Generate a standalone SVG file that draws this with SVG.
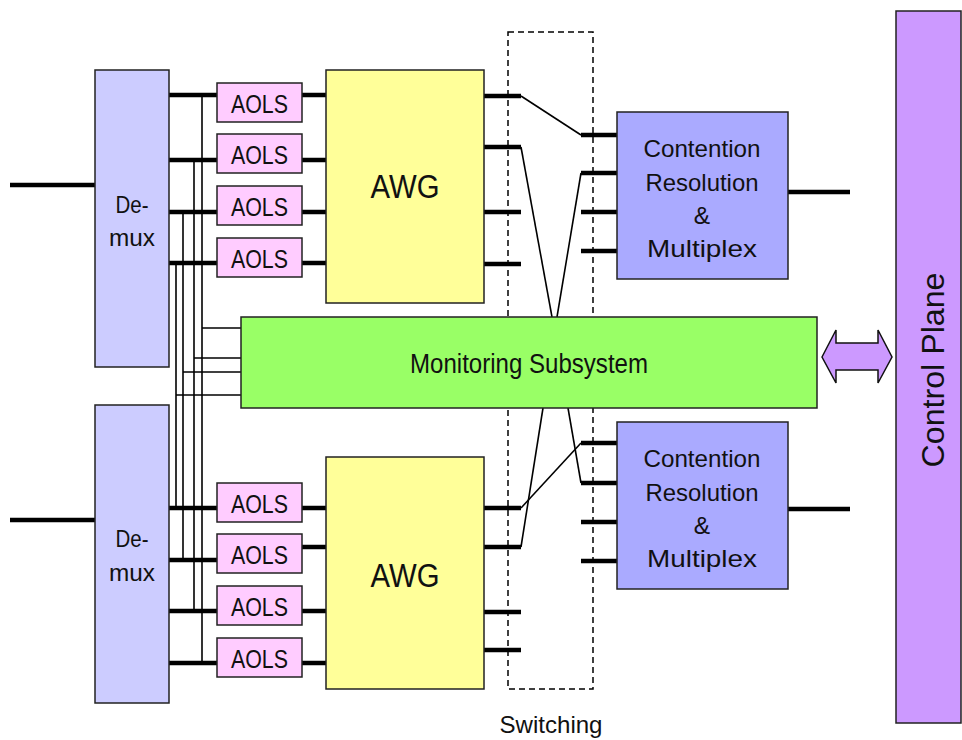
<svg xmlns="http://www.w3.org/2000/svg" width="962" height="740" viewBox="0 0 962 740">
  <style>
    .box { stroke: #222; stroke-width: 1.5; }
    .demux { fill: #CCCCFF; }
    .aols { fill: #FFCCFF; }
    .awg { fill: #FFFF99; }
    .cr { fill: #AAAAFF; }
    .mon { fill: #99FF66; }
    .cp { fill: #CC99FF; }
    .thick { stroke: #000; stroke-width: 4.5; fill: none; }
    .thin { stroke: #000; stroke-width: 1.6; fill: none; }
    .dash { stroke: #000; stroke-width: 1.5; fill: none; stroke-dasharray: 6 4; }
    text { font-family: "Liberation Sans", Arial, sans-serif; fill: #111; text-anchor: middle; }
    .t-aols { font-size: 25px; }
    .t-awg { font-size: 33px; }
    .t-dm { font-size: 23px; }
    .t-cr { font-size: 24.5px; }
  </style>

  <!-- Connectors -->
  <g id="connectors">
    <!-- input fibres -->
    <line class="thick" x1="10" y1="185" x2="95" y2="185"/>
    <line class="thick" x1="10" y1="520" x2="95" y2="520"/>
    <!-- demux to AOLS (top) -->
    <line class="thick" x1="169" y1="95" x2="217" y2="95"/>
    <line class="thick" x1="169" y1="160" x2="217" y2="160"/>
    <line class="thick" x1="169" y1="212" x2="217" y2="212"/>
    <line class="thick" x1="169" y1="263" x2="217" y2="263"/>
    <!-- AOLS to AWG (top) -->
    <line class="thick" x1="302" y1="95" x2="326" y2="95"/>
    <line class="thick" x1="302" y1="160" x2="326" y2="160"/>
    <line class="thick" x1="302" y1="212" x2="326" y2="212"/>
    <line class="thick" x1="302" y1="263" x2="326" y2="263"/>
    <!-- demux to AOLS (bottom) -->
    <line class="thick" x1="169" y1="508" x2="217" y2="508"/>
    <line class="thick" x1="169" y1="560" x2="217" y2="560"/>
    <line class="thick" x1="169" y1="611" x2="217" y2="611"/>
    <line class="thick" x1="169" y1="663" x2="217" y2="663"/>
    <!-- AOLS to AWG (bottom) -->
    <line class="thick" x1="302" y1="508" x2="326" y2="508"/>
    <line class="thick" x1="302" y1="547" x2="326" y2="547"/>
    <line class="thick" x1="302" y1="611" x2="326" y2="611"/>
    <line class="thick" x1="302" y1="663" x2="326" y2="663"/>

    <!-- monitoring taps -->
    <polyline class="thin" points="176,263 176,508"/>
    <polyline class="thin" points="183,212 183,560"/>
    <polyline class="thin" points="194,160 194,611"/>
    <polyline class="thin" points="202,95 202,663"/>
    <line class="thin" x1="202" y1="328" x2="241" y2="328"/>
    <line class="thin" x1="194" y1="358" x2="241" y2="358"/>
    <line class="thin" x1="183" y1="372" x2="241" y2="372"/>
    <line class="thin" x1="176" y1="395" x2="241" y2="395"/>

    <!-- AWG outputs (top) -->
    <line class="thick" x1="484" y1="96" x2="521" y2="96"/>
    <line class="thick" x1="484" y1="147" x2="521" y2="147"/>
    <line class="thick" x1="484" y1="212" x2="521" y2="212"/>
    <line class="thick" x1="484" y1="264" x2="521" y2="264"/>
    <!-- AWG outputs (bottom) -->
    <line class="thick" x1="484" y1="508" x2="521" y2="508"/>
    <line class="thick" x1="484" y1="547" x2="521" y2="547"/>
    <line class="thick" x1="484" y1="612" x2="521" y2="612"/>
    <line class="thick" x1="484" y1="650" x2="521" y2="650"/>
    <!-- contention inputs (top) -->
    <line class="thick" x1="581" y1="135" x2="617" y2="135"/>
    <line class="thick" x1="581" y1="173" x2="617" y2="173"/>
    <line class="thick" x1="581" y1="212" x2="617" y2="212"/>
    <line class="thick" x1="581" y1="251" x2="617" y2="251"/>
    <!-- contention inputs (bottom) -->
    <line class="thick" x1="581" y1="443" x2="617" y2="443"/>
    <line class="thick" x1="581" y1="483" x2="617" y2="483"/>
    <line class="thick" x1="581" y1="522" x2="617" y2="522"/>
    <line class="thick" x1="581" y1="561" x2="617" y2="561"/>
    <!-- outputs -->
    <line class="thick" x1="788" y1="192" x2="850" y2="192"/>
    <line class="thick" x1="788" y1="509" x2="850" y2="509"/>

    <!-- switch fabric paths -->
    <line class="thin" x1="521" y1="96" x2="581" y2="135"/>
    <line class="thin" x1="521" y1="147" x2="552" y2="317"/>
    <line class="thin" x1="581" y1="173" x2="557" y2="317"/>
    <line class="thin" x1="543" y1="408" x2="521" y2="547"/>
    <line class="thin" x1="568" y1="408" x2="581" y2="483"/>
    <line class="thin" x1="521" y1="508" x2="581" y2="443"/>

    <!-- link to control plane -->
    <path id="cp-link" d="M822,357 L836,330 L836,343 L878,343 L878,330 L892,357 L878,383 L878,370 L836,370 L836,383 Z" fill="#CC99FF" stroke="#111" stroke-width="1.5" stroke-linejoin="miter"/>
  </g>

  <!-- Switching region -->
  <g id="switching">
    <rect class="dash" x="508" y="32" width="85" height="657"/>
    <text x="551" y="733" font-size="24" textLength="103" lengthAdjust="spacingAndGlyphs">Switching</text>
  </g>

  <!-- Demultiplexers -->
  <g id="demux-top">
    <rect class="box demux" x="95" y="70" width="74" height="297"/>
    <text class="t-dm" x="132" y="213" textLength="33" lengthAdjust="spacingAndGlyphs">De-</text>
    <text class="t-dm" x="132" y="246" textLength="46" lengthAdjust="spacingAndGlyphs">mux</text>
  </g>
  <g id="demux-bottom">
    <rect class="box demux" x="95" y="405" width="74" height="298"/>
    <text class="t-dm" x="132" y="547" textLength="33" lengthAdjust="spacingAndGlyphs">De-</text>
    <text class="t-dm" x="132" y="581" textLength="46" lengthAdjust="spacingAndGlyphs">mux</text>
  </g>

  <!-- Label swappers (top) -->
  <g id="aols-t1"><rect class="box aols" x="217" y="83" width="85" height="39"/><text class="t-aols" x="259.5" y="112.5" textLength="57" lengthAdjust="spacingAndGlyphs">AOLS</text></g>
  <g id="aols-t2"><rect class="box aols" x="217" y="134" width="85" height="39"/><text class="t-aols" x="259.5" y="163.5" textLength="57" lengthAdjust="spacingAndGlyphs">AOLS</text></g>
  <g id="aols-t3"><rect class="box aols" x="217" y="186" width="85" height="39"/><text class="t-aols" x="259.5" y="215.5" textLength="57" lengthAdjust="spacingAndGlyphs">AOLS</text></g>
  <g id="aols-t4"><rect class="box aols" x="217" y="238" width="85" height="39"/><text class="t-aols" x="259.5" y="267.5" textLength="57" lengthAdjust="spacingAndGlyphs">AOLS</text></g>
  <!-- Label swappers (bottom) -->
  <g id="aols-b1"><rect class="box aols" x="217" y="483" width="85" height="39"/><text class="t-aols" x="259.5" y="512.5" textLength="57" lengthAdjust="spacingAndGlyphs">AOLS</text></g>
  <g id="aols-b2"><rect class="box aols" x="217" y="534" width="85" height="39"/><text class="t-aols" x="259.5" y="563.5" textLength="57" lengthAdjust="spacingAndGlyphs">AOLS</text></g>
  <g id="aols-b3"><rect class="box aols" x="217" y="586" width="85" height="39"/><text class="t-aols" x="259.5" y="615.5" textLength="57" lengthAdjust="spacingAndGlyphs">AOLS</text></g>
  <g id="aols-b4"><rect class="box aols" x="217" y="638" width="85" height="39"/><text class="t-aols" x="259.5" y="667.5" textLength="57" lengthAdjust="spacingAndGlyphs">AOLS</text></g>

  <!-- Waveguide gratings -->
  <g id="awg-top">
    <rect class="box awg" x="326" y="70" width="158" height="233"/>
    <text class="t-awg" x="405" y="198" textLength="69" lengthAdjust="spacingAndGlyphs">AWG</text>
  </g>
  <g id="awg-bottom">
    <rect class="box awg" x="326" y="457" width="158" height="232"/>
    <text class="t-awg" x="405" y="587" textLength="69" lengthAdjust="spacingAndGlyphs">AWG</text>
  </g>

  <!-- Contention resolution blocks -->
  <g id="cr-top">
    <rect class="box cr" x="617" y="112" width="171" height="167"/>
    <text class="t-cr" x="702" y="157" textLength="117" lengthAdjust="spacingAndGlyphs">Contention</text>
    <text class="t-cr" x="702" y="190.5" textLength="113" lengthAdjust="spacingAndGlyphs">Resolution</text>
    <text class="t-cr" x="702" y="224">&amp;</text>
    <text class="t-cr" x="702" y="257" textLength="110" lengthAdjust="spacingAndGlyphs">Multiplex</text>
  </g>
  <g id="cr-bottom">
    <rect class="box cr" x="617" y="422" width="171" height="167"/>
    <text class="t-cr" x="702" y="467" textLength="117" lengthAdjust="spacingAndGlyphs">Contention</text>
    <text class="t-cr" x="702" y="500.5" textLength="113" lengthAdjust="spacingAndGlyphs">Resolution</text>
    <text class="t-cr" x="702" y="534">&amp;</text>
    <text class="t-cr" x="702" y="567" textLength="110" lengthAdjust="spacingAndGlyphs">Multiplex</text>
  </g>

  <!-- Monitoring -->
  <g id="monitoring">
    <rect class="box mon" x="241" y="317" width="576" height="91"/>
    <text x="529" y="373" font-size="27" textLength="238" lengthAdjust="spacingAndGlyphs">Monitoring Subsystem</text>
  </g>

  <!-- Control plane -->
  <g id="control-plane">
    <rect class="box cp" x="896" y="11" width="65" height="712"/>
    <text transform="translate(944,370) rotate(-90)" x="0" y="0" font-size="32" textLength="195" lengthAdjust="spacingAndGlyphs">Control Plane</text>
  </g>
</svg>
